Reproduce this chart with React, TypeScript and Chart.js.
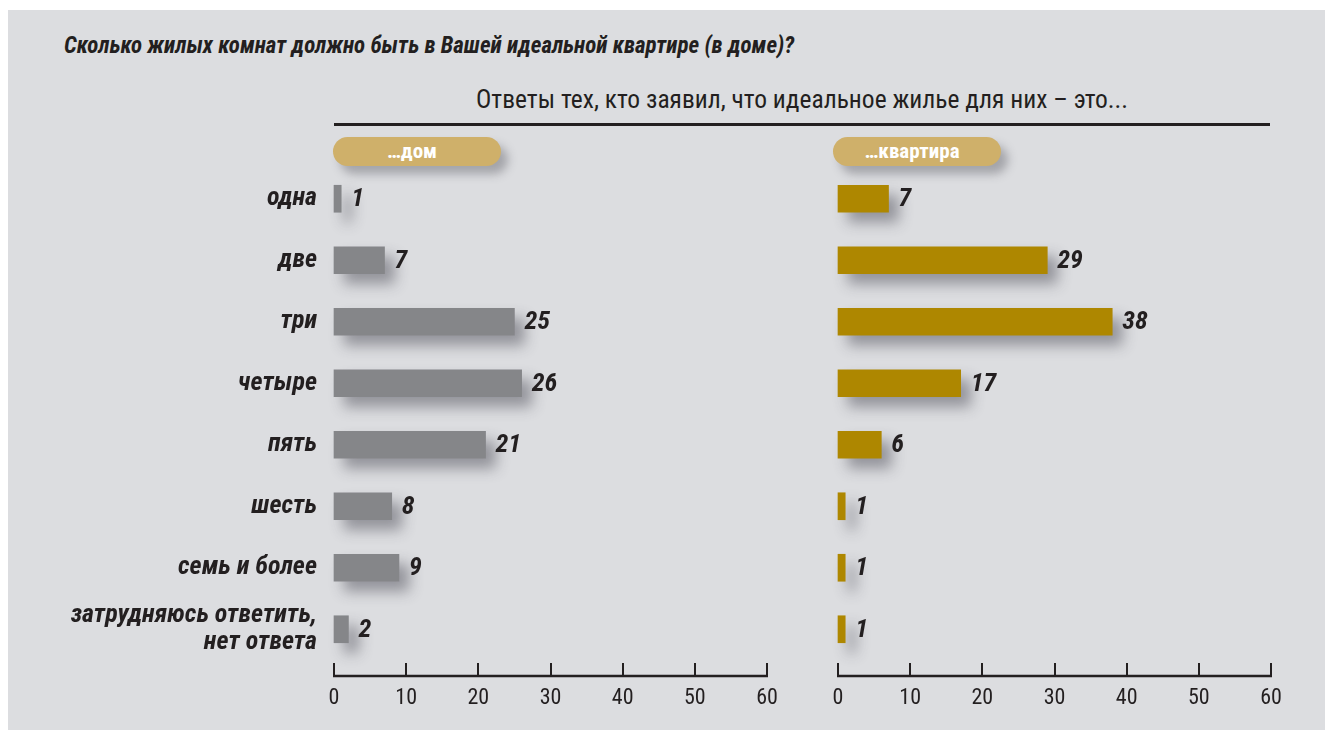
import React, { useEffect, useRef } from "react";
import { Chart, registerables } from "chart.js";
Chart.register(...registerables);

const categories: (string | string[])[] = [
  "одна",
  "две",
  "три",
  "четыре",
  "пять",
  "шесть",
  "семь и более",
  ["затрудняюсь ответить,", "нет ответа"],
];
const houseValues = [1, 7, 25, 26, 21, 8, 9, 2];
const flatValues = [7, 29, 38, 17, 6, 1, 1, 1];
const xMin = 0;
const xMax = 60;
const xStep = 10;
const titleText = "Сколько жилых комнат должно быть в Вашей идеальной квартире (в доме)?";
const subtitleText = "Ответы тех, кто заявил, что идеальное жилье для них – это...";
const houseLabel = "…дом";
const flatLabel = "…квартира";

const FONT = "Roboto";
const TEXT = "#231f20";
const PANEL = "#dcdde0";
const GRAY = "#858689";
const GOLD = "#ae8700";
const PILL = "#cfb06a";

const decorPlugin = {
  id: "decor",
  beforeDatasetsDraw(chart: any) {
    const ctx = chart.ctx;
    ctx.save();
    ctx.shadowColor = "rgba(60,60,70,0.45)";
    ctx.shadowBlur = 14;
    ctx.shadowOffsetX = 10;
    ctx.shadowOffsetY = 10;
  },
  afterDatasetsDraw(chart: any) {
    const ctx = chart.ctx;
    ctx.restore();
    // value labels
    ctx.save();
    ctx.font = `italic bold condensed 26px ${FONT}`;
    ctx.fillStyle = TEXT;
    ctx.textAlign = "left";
    ctx.textBaseline = "middle";
    const meta = chart.getDatasetMeta(0);
    const data = chart.data.datasets[0].data;
    meta.data.forEach((bar: any, i: number) => {
      ctx.fillText(String(data[i]), bar.x + 10, bar.y + 1);
    });
    ctx.restore();
    // axis line with upward ticks
    const xs = chart.scales.x;
    const y0 = chart.chartArea.bottom + 16;
    ctx.save();
    ctx.strokeStyle = TEXT;
    ctx.lineWidth = 2.5;
    ctx.beginPath();
    ctx.moveTo(xs.getPixelForValue(xMin) - 1, y0);
    ctx.lineTo(xs.getPixelForValue(xMax) + 1, y0);
    ctx.stroke();
    ctx.lineWidth = 2;
    for (let v = xMin; v <= xMax; v += xStep) {
      const px = Math.round(xs.getPixelForValue(v));
      ctx.beginPath();
      ctx.moveTo(px, y0);
      ctx.lineTo(px, y0 - 13);
      ctx.stroke();
    }
    ctx.restore();
  },
};

function BarPanel(props: {
  values: number[];
  color: string;
  showCategories: boolean;
  left: number;
  width: number;
  padLeft: number;
  padRight: number;
}) {
  const ref = useRef<HTMLCanvasElement | null>(null);
  useEffect(() => {
    if (!ref.current) return;
    const chart = new Chart(ref.current, {
      type: "bar",
      data: {
        labels: categories as any,
        datasets: [
          {
            data: props.values,
            backgroundColor: props.color,
            barThickness: 27,
            borderWidth: 0,
            clip: false as any,
          },
        ],
      },
      options: {
        indexAxis: "y",
        responsive: false,
        animation: false,
        layout: { padding: { left: props.padLeft, right: props.padRight, top: 8, bottom: 0 } },
        plugins: { legend: { display: false }, tooltip: { enabled: false }, title: { display: false } },
        scales: {
          x: {
            min: xMin,
            max: xMax,
            grid: { display: false, drawTicks: false },
            border: { display: false },
            ticks: {
              stepSize: xStep,
              padding: 25,
              color: TEXT,
              font: { family: FONT, size: 22, weight: "condensed" as any },
              maxRotation: 0,
            },
            afterFit(scale: any) {
              scale.height = 60;
              scale.paddingLeft = 0;
              scale.paddingRight = 0;
            },
          },
          y: {
            display: props.showCategories,
            grid: { display: false, drawTicks: false },
            border: { display: false },
            ticks: {
              padding: 17,
              color: TEXT,
              font: { family: FONT, size: 26, style: "italic", weight: "bold condensed" as any, lineHeight: 1.02 },
            },
            afterFit(scale: any) {
              scale.width = props.showCategories ? 314 : 0;
              scale.paddingTop = 0;
              scale.paddingBottom = 0;
            },
          },
        },
      },
      plugins: [decorPlugin],
    });
    return () => chart.destroy();
  }, []);
  return (
    <canvas
      ref={ref}
      width={props.width}
      height={560}
      style={{ position: "absolute", left: props.left, top: 152 }}
    />
  );
}

function Pill(props: { left: number; text: string }) {
  return (
    <div
      style={{
        position: "absolute",
        left: props.left,
        top: 129,
        width: 168,
        height: 29,
        borderRadius: 15,
        background: PILL,
        boxShadow: "7px 8px 10px rgba(60,60,70,0.35)",
        color: "#fff",
        fontFamily: FONT,
        fontStretch: "condensed",
        fontWeight: "bold",
        fontSize: 21,
        lineHeight: "29px",
        textAlign: "center",
        paddingRight: 10,
        boxSizing: "border-box",
      }}
    >
      {props.text}
    </div>
  );
}

export default function App() {
  return (
    <div style={{ position: "relative", width: 1325, height: 722, overflow: "hidden" }}>
      <div style={{ position: "absolute", left: 0, top: 2, width: 1325, height: 720, background: PANEL }} />
      <div
        style={{
          position: "absolute",
          left: 56,
          top: 26,
          fontFamily: FONT,
          fontStretch: "condensed",
          fontWeight: "bold",
          fontStyle: "italic",
          fontSize: 23,
          lineHeight: "24px",
          color: TEXT,
          whiteSpace: "nowrap",
        }}
      >
        {titleText}
      </div>
      <div
        style={{
          position: "absolute",
          left: 326,
          top: 78,
          width: 936,
          fontFamily: FONT,
          fontStretch: "condensed",
          fontSize: 25.5,
          lineHeight: "26px",
          color: TEXT,
          textAlign: "center",
          whiteSpace: "nowrap",
        }}
      >
        {subtitleText}
      </div>
      <div style={{ position: "absolute", left: 326, top: 115, width: 936, height: 3, background: TEXT }} />
      <Pill left={325} text={houseLabel} />
      <Pill left={825} text={flatLabel} />
      <BarPanel values={houseValues} color={GRAY} showCategories={true} left={12} width={780} padLeft={0} padRight={33} />
      <BarPanel values={flatValues} color={GOLD} showCategories={false} left={792} width={528} padLeft={38} padRight={57} />
    </div>
  );
}
